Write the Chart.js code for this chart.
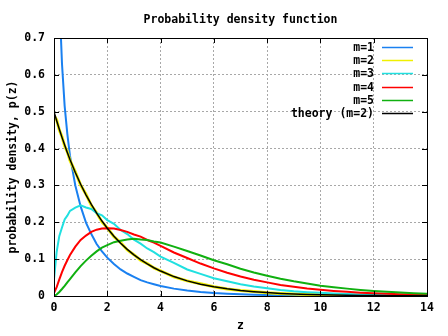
<!DOCTYPE html>
<html>
<head>
<meta charset="utf-8">
<script src="https://cdn.jsdelivr.net/npm/chart.js@4"></script>
<style>
    html, body { margin: 0; padding: 0; background: #fff; }
    #wrap { width: 448px; height: 336px; }
</style>
</head>
<body>
<div id="wrap"><canvas id="pdfChart" width="448" height="336"></canvas></div>
<script>
// values
const zValues = [0, 0.1, 0.2, 0.3, 0.4, 0.5, 0.6, 0.8, 1.0, 1.2, 1.4, 1.6, 1.8, 2.0, 2.25, 2.5, 2.75, 3.0, 3.25, 3.5, 3.75, 4.0,
    4.5, 5.0, 5.5, 6.0, 6.5, 7.0, 7.5, 8.0, 8.5, 9.0, 9.5, 10.0, 10.5, 11.0, 11.5, 12.0, 12.5, 13.0, 13.5, 14.0];

const m1 = [null, 1.20, 0.81, 0.63, 0.515, 0.44, 0.38, 0.30, 0.243, 0.199, 0.168, 0.141, 0.121, 0.104, 0.087, 0.072, 0.061, 0.052, 0.043, 0.037, 0.032, 0.027,
    0.020, 0.015, 0.011, 0.008, 0.006, 0.0046, 0.0034, 0.0026, 0.002, 0.0015, 0.0011, 0.0009, 0.0007, 0.0005, 0.0004, 0.0003, 0.0002, 0.0002, 0.0001, 0.0001];
const m2 = [0.49, 0.478, 0.450, 0.432, 0.407, 0.391, 0.368, 0.337, 0.301, 0.276, 0.246, 0.226, 0.201, 0.185, 0.161, 0.145, 0.125, 0.112, 0.097, 0.088, 0.076, 0.068,
    0.052, 0.041, 0.033, 0.025, 0.019, 0.015, 0.012, 0.009, 0.007, 0.0055, 0.0044, 0.0034, 0.0026, 0.002, 0.0016, 0.0012, 0.001, 0.0008, 0.0006, 0.0005];
const m3 = [0.045, 0.120, 0.163, 0.186, 0.208, 0.218, 0.231, 0.240, 0.246, 0.240, 0.236, 0.225, 0.219, 0.206, 0.196, 0.179, 0.168, 0.153, 0.142, 0.129, 0.119, 0.107,
    0.090, 0.072, 0.060, 0.048, 0.040, 0.032, 0.026, 0.021, 0.0165, 0.013, 0.0105, 0.0085, 0.0068, 0.0054, 0.0043, 0.0034, 0.0027, 0.0022, 0.0017, 0.0014];
const m4 = [0.008, 0.024, 0.045, 0.065, 0.082, 0.097, 0.111, 0.134, 0.152, 0.164, 0.174, 0.180, 0.183, 0.184, 0.183, 0.179, 0.174, 0.167, 0.161, 0.152, 0.145, 0.136,
    0.118, 0.103, 0.088, 0.075, 0.063, 0.053, 0.044, 0.037, 0.030, 0.025, 0.0205, 0.017, 0.0138, 0.0112, 0.0091, 0.0074, 0.006, 0.0049, 0.0039, 0.0032];
const m5 = [0.0, 0.004, 0.011, 0.019, 0.0275, 0.037, 0.046, 0.064, 0.081, 0.096, 0.109, 0.121, 0.131, 0.138, 0.146, 0.150, 0.153, 0.155, 0.153, 0.152, 0.148, 0.145,
    0.134, 0.122, 0.110, 0.097, 0.086, 0.074, 0.064, 0.055, 0.047, 0.040, 0.034, 0.028, 0.024, 0.020, 0.0165, 0.0137, 0.0113, 0.0094, 0.0077, 0.0064];
const theory = [0.5, 0.4756, 0.4524, 0.4304, 0.4094, 0.3894, 0.3704, 0.3352, 0.3033, 0.2744, 0.2483, 0.2247, 0.2033, 0.1839, 0.1624, 0.1433, 0.1264, 0.1116, 0.0985, 0.0869, 0.0767, 0.0677,
    0.0527, 0.0410, 0.0320, 0.0249, 0.0194, 0.0151, 0.0118, 0.0092, 0.0071, 0.0056, 0.0043, 0.0034, 0.0026, 0.0020, 0.0016, 0.0012, 0.0010, 0.0008, 0.0006, 0.0005];

const seriesLabels = ["m=1", "m=2", "m=3", "m=4", "m=5", "theory (m=2)"];
const seriesValues = [m1, m2, m3, m4, m5, theory];
const seriesColors = ["#1a80f0", "#f0f000", "#20e0e0", "#ff0000", "#10b010", "#000000"];
const seriesWidths = [2, 3, 2, 2, 2, 1.5];

const xTicks = [0, 2, 4, 6, 8, 10, 12, 14];
const yTicks = [0, 0.1, 0.2, 0.3, 0.4, 0.5, 0.6, 0.7];

const FONT = "'DejaVu Sans Mono', 'Liberation Mono', monospace";

// gnuplot style frame, inward ticks, title and key
const gnuplotDecor = {
    id: "gnuplotDecor",
    afterDraw(chart) {
        const ctx = chart.ctx;
        const a = chart.chartArea;
        const xs = chart.scales.x;
        const ys = chart.scales.y;
        ctx.save();

        ctx.strokeStyle = "#000";
        ctx.lineWidth = 1;
        ctx.beginPath();
        xTicks.forEach(v => {
            const px = Math.round(xs.getPixelForValue(v)) + 0.5;
            ctx.moveTo(px, a.bottom); ctx.lineTo(px, a.bottom - 5);
            ctx.moveTo(px, a.top); ctx.lineTo(px, a.top + 5);
        });
        yTicks.forEach(v => {
            const py = Math.round(ys.getPixelForValue(v)) + 0.5;
            ctx.moveTo(a.left, py); ctx.lineTo(a.left + 5, py);
            ctx.moveTo(a.right, py); ctx.lineTo(a.right - 5, py);
        });
        ctx.stroke();
        ctx.strokeRect(Math.round(a.left) + 0.5, Math.round(a.top) + 0.5,
            Math.round(a.right - a.left), Math.round(a.bottom - a.top));

        ctx.fillStyle = "#000";
        ctx.font = "bold 11.5px " + FONT;
        ctx.textAlign = "center";
        ctx.textBaseline = "alphabetic";
        ctx.fillText("Probability density function", (a.left + a.right) / 2, 23);

        // key, top right inside the plot
        ctx.textAlign = "right";
        ctx.textBaseline = "middle";
        ctx.lineWidth = 1.5;
        seriesLabels.forEach((lab, i) => {
            const y = Math.round(a.top + 9 + i * 13.2);
            ctx.fillStyle = "#000";
            ctx.fillText(lab, a.right - 53, y + 1);
            ctx.strokeStyle = seriesColors[i];
            ctx.beginPath();
            ctx.moveTo(a.right - 45, y + 0.5);
            ctx.lineTo(a.right - 14, y + 0.5);
            ctx.stroke();
        });
        ctx.restore();
    }
};

const datasets = seriesLabels.map((lab, i) => ({
    label: lab,
    data: zValues.map((z, j) => ({ x: z, y: seriesValues[i][j] })),
    borderColor: seriesColors[i],
    backgroundColor: seriesColors[i],
    borderWidth: seriesWidths[i],
    pointRadius: 0,
    tension: 0,
    spanGaps: false,
    order: seriesLabels.length - i
}));

const ctx = document.getElementById("pdfChart").getContext("2d");
const pdfChart = new Chart(ctx, {
    type: "line",
    data: { datasets },
    options: {
        responsive: false,
        animation: false,
        events: [],
        layout: { padding: { left: 0, right: 21, top: 38, bottom: 0 } },
        plugins: {
            legend: { display: false },
            tooltip: { enabled: false },
            title: { display: false }
        },
        scales: {
            x: {
                type: "linear",
                min: 0,
                max: 14,
                afterFit: s => { s.height = 40; },
                afterBuildTicks: s => { s.ticks = xTicks.map(v => ({ value: v })); },
                ticks: {
                    color: "#000",
                    padding: 5,
                    maxRotation: 0,
                    font: { family: FONT, size: 11.5, weight: "bold" }
                },
                grid: { color: "#a8a8a8", drawTicks: false, tickLength: 0 },
                border: { display: false, dash: [2, 2] },
                title: {
                    display: true,
                    text: "z",
                    color: "#000",
                    padding: { top: 0, bottom: 3 },
                    font: { family: FONT, size: 11.5, weight: "bold" }
                }
            },
            y: {
                min: 0,
                max: 0.7,
                afterFit: s => { s.width = 54; },
                afterBuildTicks: s => { s.ticks = yTicks.map(v => ({ value: v })); },
                ticks: {
                    color: "#000",
                    padding: 9,
                    callback: v => v === 0 ? "0" : v.toFixed(1),
                    font: { family: FONT, size: 11.5, weight: "bold" }
                },
                grid: { color: "#a8a8a8", drawTicks: false, tickLength: 0 },
                border: { display: false, dash: [2, 2] },
                title: {
                    display: true,
                    text: "probability density, p(z)",
                    color: "#000",
                    padding: { top: 6, bottom: 0 },
                    font: { family: FONT, size: 11.5, weight: "bold" }
                }
            }
        }
    },
    plugins: [gnuplotDecor]
});
</script>
</body>
</html>
